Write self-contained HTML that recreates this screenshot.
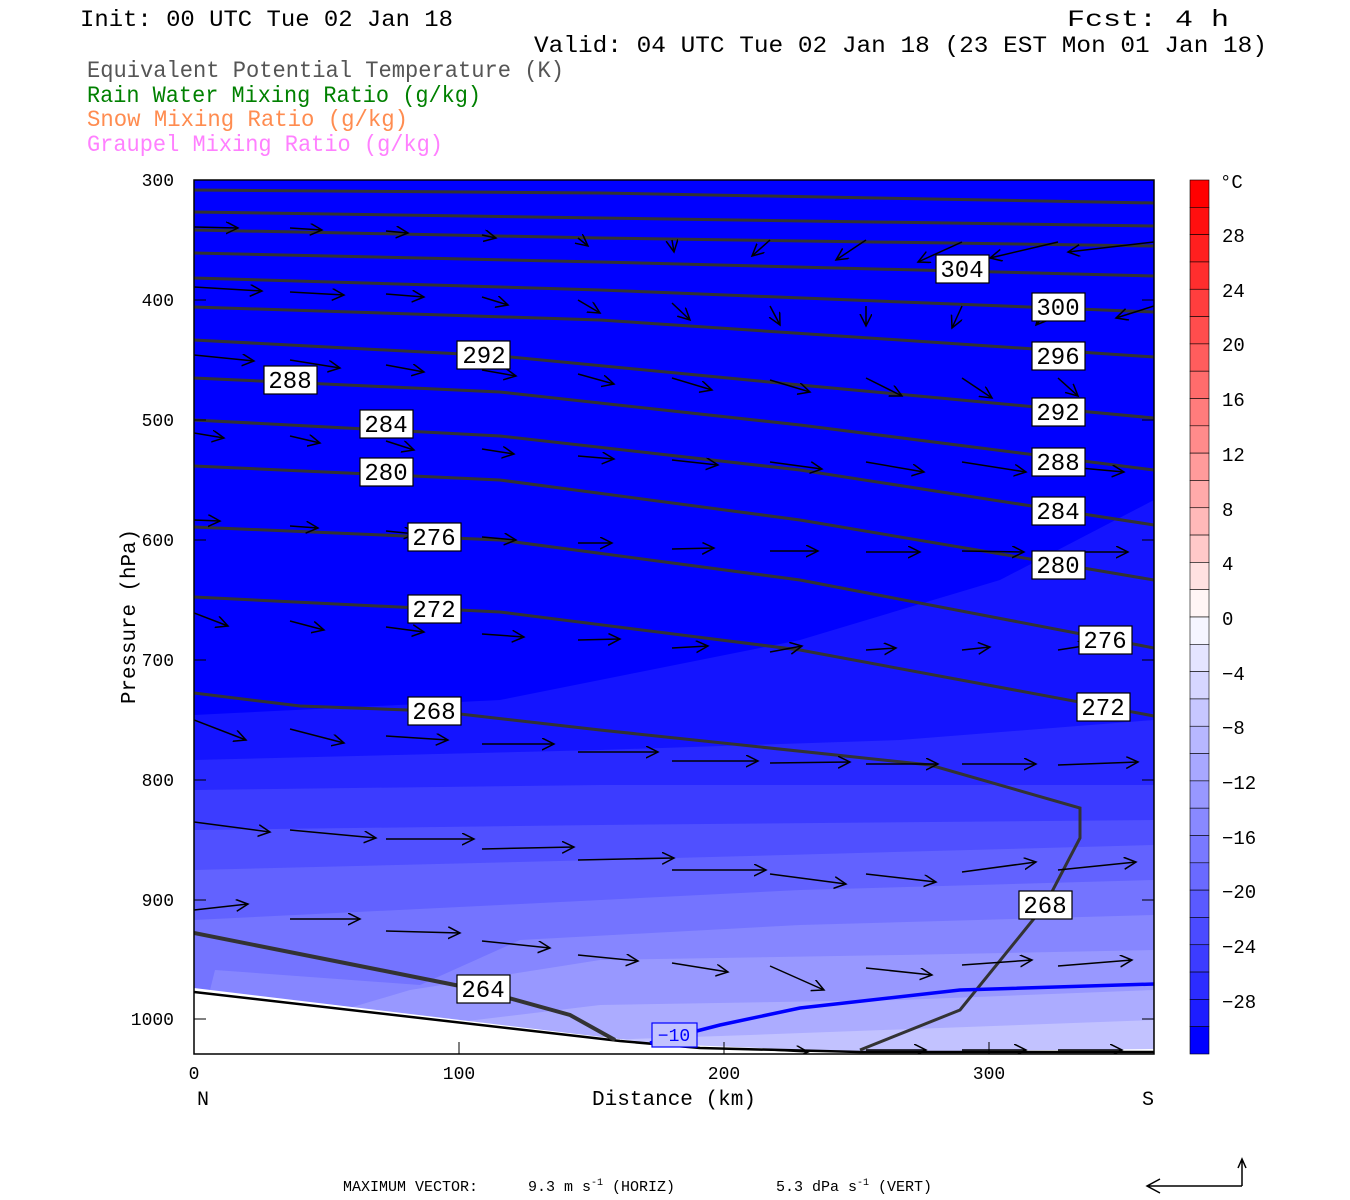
<!DOCTYPE html>
<html><head><meta charset="utf-8"><style>
html,body{margin:0;padding:0;background:#fff;width:1350px;height:1200px;overflow:hidden}
svg text{font-family:"Liberation Mono",monospace}
</style></head><body>
<svg width="1350" height="1200" viewBox="0 0 1350 1200" xmlns="http://www.w3.org/2000/svg">
<defs>
<marker id="ah" markerWidth="14" markerHeight="14" refX="12" refY="6" orient="auto" markerUnits="userSpaceOnUse">
<path d="M0,0 L12,6 L0,12" fill="none" stroke="#000" stroke-width="1.5"/>
</marker>
<clipPath id="pc"><rect x="194" y="180" width="960" height="874"/></clipPath>
</defs>
<g font-size="23">
<text x="80" y="26" fill="#000" textLength="373" lengthAdjust="spacingAndGlyphs">Init: 00 UTC Tue 02 Jan 18</text>
<text x="1067" y="26" fill="#000" textLength="162" lengthAdjust="spacingAndGlyphs">Fcst:    4 h</text>
<text x="534" y="52" fill="#000" textLength="733" lengthAdjust="spacingAndGlyphs">Valid: 04 UTC Tue 02 Jan 18 (23 EST Mon 01 Jan 18)</text>
<text x="87" y="77" fill="#555" textLength="477" lengthAdjust="spacingAndGlyphs">Equivalent Potential Temperature (K)</text>
<text x="87" y="102" fill="#008000" textLength="394" lengthAdjust="spacingAndGlyphs">Rain Water Mixing Ratio (g/kg)</text>
<text x="87" y="126" fill="#ff8c50" textLength="321" lengthAdjust="spacingAndGlyphs">Snow Mixing Ratio (g/kg)</text>
<text x="87" y="151" fill="#ff80ff" textLength="356" lengthAdjust="spacingAndGlyphs">Graupel Mixing Ratio (g/kg)</text>
</g>
<g clip-path="url(#pc)">
<rect x="194" y="180" width="960" height="874" fill="#0000ff"/>
<path d="M194,715 L500,700 L800,640 L1000,580 L1154,500 L1154,1054 L194,1054Z" fill="#1414ff"/>
<path d="M194,760 L600,750 L900,740 L1154,720 L1154,1054 L194,1054Z" fill="#2828ff"/>
<path d="M194,790 L600,785 L1154,785 L1154,1054 L194,1054Z" fill="#3c3cff"/>
<path d="M194,830 L600,825 L1154,820 L1154,1054 L194,1054Z" fill="#5050ff"/>
<path d="M194,870 L600,860 L1154,845 L1154,1054 L194,1054Z" fill="#6262ff"/>
<path d="M194,920 L500,905 L800,890 L1154,880 L1154,1054 L194,1054Z" fill="#7474ff"/>
<path d="M215,970 L420,985 L520,940 L800,925 L1154,915 L1154,1054 L194,1054Z" fill="#8686ff"/>
<path d="M410,990 L600,960 L900,955 L1154,950 L1154,1054 L194,1054Z" fill="#9898ff"/>
<path d="M600,1005 L900,1000 L1154,990 L1154,1054 L194,1054Z" fill="#acacff"/>
<path d="M750,1035 L1154,1020 L1154,1054 L194,1054Z" fill="#c2c2ff"/>
<path d="M194,988 L660,1044 L860,1052 L1154,1049 L1154,1054 L194,1054Z" fill="#fff"/>
<path d="M194,992 L620,1041 L700,1048 L860,1052 L1154,1052" fill="none" stroke="#000" stroke-width="2.5"/>
<g fill="none" stroke="#333" stroke-width="3">
<path d="M194,190 L600,193 L1154,203"/>
<path d="M194,212 L600,218 L1154,226"/>
<path d="M194,230 L600,238 L1154,246"/>
<path d="M194,253 L600,262 L1154,276"/>
<path d="M194,278 L600,290 L1154,312"/>
<path d="M194,307 L600,320 L1154,357"/>
<path d="M194,340 L500,356 L800,385 L1154,418"/>
<path d="M194,378 L500,392 L800,425 L1154,470"/>
<path d="M194,420 L500,436 L800,470 L1154,525"/>
<path d="M194,466 L500,480 L800,520 L1154,580"/>
<path d="M194,527 L500,540 L800,580 L1154,648"/>
<path d="M194,597 L500,612 L800,650 L1154,716"/>
<path d="M194,693 L300,706 L434,711 L600,730 L930,765 L1080,808 L1080,838 L1045,905 L960,1010 L860,1050"/>
<path d="M194,933 L380,970 L480,990 L570,1015 L615,1040" stroke-width="4"/>
</g>
<path d="M650,1043 L720,1025 L800,1008 L960,990 L1154,984" fill="none" stroke="#0000ff" stroke-width="3.5"/>
<g stroke="#000" stroke-width="1.5" marker-end="url(#ah)" fill="none">
<line x1="194" y1="227" x2="238" y2="228"/><line x1="290" y1="228" x2="322" y2="230"/><line x1="386" y1="231" x2="408" y2="233"/><line x1="482" y1="235" x2="496" y2="238"/><line x1="578" y1="238" x2="588" y2="246"/><line x1="672" y1="240" x2="674" y2="252"/><line x1="770" y1="240" x2="752" y2="256"/><line x1="866" y1="240" x2="836" y2="260"/><line x1="962" y1="242" x2="918" y2="262"/><line x1="1058" y1="242" x2="990" y2="258"/><line x1="1154" y1="242" x2="1068" y2="252"/>
<line x1="194" y1="287" x2="262" y2="291"/><line x1="290" y1="292" x2="344" y2="295"/><line x1="386" y1="294" x2="424" y2="297"/><line x1="482" y1="297" x2="508" y2="305"/><line x1="578" y1="300" x2="600" y2="313"/><line x1="672" y1="303" x2="690" y2="320"/><line x1="770" y1="306" x2="780" y2="325"/><line x1="866" y1="306" x2="866" y2="326"/><line x1="962" y1="306" x2="952" y2="328"/><line x1="1058" y1="300" x2="1036" y2="325"/><line x1="1154" y1="306" x2="1116" y2="318"/>
<line x1="194" y1="355" x2="254" y2="361"/><line x1="290" y1="360" x2="340" y2="368"/><line x1="386" y1="365" x2="424" y2="372"/><line x1="482" y1="370" x2="516" y2="376"/><line x1="578" y1="374" x2="614" y2="384"/><line x1="672" y1="378" x2="712" y2="390"/><line x1="770" y1="380" x2="810" y2="392"/><line x1="866" y1="378" x2="902" y2="396"/><line x1="962" y1="378" x2="992" y2="398"/><line x1="1058" y1="378" x2="1078" y2="396"/>
<line x1="194" y1="433" x2="224" y2="438"/><line x1="290" y1="436" x2="320" y2="443"/><line x1="386" y1="441" x2="414" y2="450"/><line x1="482" y1="449" x2="514" y2="454"/><line x1="578" y1="456" x2="614" y2="459"/><line x1="672" y1="460" x2="718" y2="465"/><line x1="770" y1="462" x2="822" y2="469"/><line x1="866" y1="462" x2="924" y2="472"/><line x1="962" y1="462" x2="1026" y2="472"/><line x1="1058" y1="466" x2="1124" y2="472"/>
<line x1="194" y1="520" x2="220" y2="521"/><line x1="290" y1="526" x2="318" y2="528"/><line x1="386" y1="531" x2="416" y2="534"/><line x1="482" y1="537" x2="516" y2="540"/><line x1="578" y1="543" x2="612" y2="543"/><line x1="672" y1="549" x2="714" y2="548"/><line x1="770" y1="551" x2="818" y2="551"/><line x1="866" y1="552" x2="920" y2="552"/><line x1="962" y1="551" x2="1024" y2="552"/><line x1="1058" y1="552" x2="1128" y2="552"/>
<line x1="194" y1="613" x2="228" y2="626"/><line x1="290" y1="621" x2="324" y2="630"/><line x1="386" y1="627" x2="424" y2="632"/><line x1="482" y1="634" x2="524" y2="637"/><line x1="578" y1="640" x2="620" y2="639"/><line x1="672" y1="648" x2="708" y2="646"/><line x1="770" y1="652" x2="802" y2="646"/><line x1="866" y1="650" x2="896" y2="648"/><line x1="962" y1="650" x2="990" y2="647"/><line x1="1058" y1="650" x2="1090" y2="645"/>
<line x1="194" y1="720" x2="246" y2="740"/><line x1="290" y1="729" x2="344" y2="743"/><line x1="386" y1="736" x2="448" y2="740"/><line x1="482" y1="744" x2="554" y2="744"/><line x1="578" y1="752" x2="658" y2="752"/><line x1="672" y1="761" x2="758" y2="761"/><line x1="770" y1="763" x2="850" y2="762"/><line x1="866" y1="764" x2="938" y2="764"/><line x1="962" y1="764" x2="1036" y2="764"/><line x1="1058" y1="765" x2="1138" y2="762"/>
<line x1="194" y1="822" x2="270" y2="832"/><line x1="290" y1="830" x2="376" y2="838"/><line x1="386" y1="839" x2="474" y2="839"/><line x1="482" y1="849" x2="574" y2="847"/><line x1="578" y1="860" x2="674" y2="858"/><line x1="672" y1="870" x2="766" y2="870"/><line x1="770" y1="874" x2="846" y2="884"/><line x1="866" y1="874" x2="936" y2="882"/><line x1="962" y1="872" x2="1036" y2="862"/><line x1="1058" y1="870" x2="1136" y2="862"/>
<line x1="194" y1="910" x2="248" y2="904"/><line x1="290" y1="919" x2="360" y2="919"/><line x1="386" y1="931" x2="460" y2="933"/><line x1="482" y1="941" x2="550" y2="948"/><line x1="578" y1="955" x2="638" y2="961"/><line x1="672" y1="963" x2="728" y2="972"/><line x1="770" y1="966" x2="824" y2="990"/><line x1="866" y1="968" x2="932" y2="975"/><line x1="962" y1="965" x2="1032" y2="960"/><line x1="1058" y1="966" x2="1132" y2="960"/>
<line x1="770" y1="1050" x2="808" y2="1052"/><line x1="866" y1="1050" x2="926" y2="1050"/><line x1="962" y1="1050" x2="1026" y2="1050"/><line x1="1058" y1="1050" x2="1122" y2="1050"/>
</g>
</g>
<g font-size="24" text-anchor="middle" font-family="Liberation Serif">
<g fill="#fff" stroke="#000" stroke-width="1.2">
<rect x="936" y="255" width="53" height="28"/><rect x="1032" y="293" width="53" height="28"/><rect x="1032" y="342" width="53" height="28"/><rect x="457" y="341" width="53" height="28"/><rect x="1032" y="398" width="53" height="28"/><rect x="264" y="366" width="53" height="28"/><rect x="1032" y="448" width="53" height="28"/><rect x="360" y="410" width="53" height="28"/><rect x="1032" y="497" width="53" height="28"/><rect x="360" y="458" width="53" height="28"/><rect x="1032" y="551" width="53" height="28"/><rect x="408" y="523" width="53" height="28"/><rect x="1079" y="626" width="53" height="28"/><rect x="408" y="595" width="53" height="28"/><rect x="1077" y="693" width="53" height="28"/><rect x="408" y="697" width="53" height="28"/><rect x="1019" y="891" width="53" height="28"/><rect x="457" y="975" width="53" height="28"/>
</g>
<text x="962" y="277">304</text><text x="1058" y="315">300</text><text x="1058" y="364">296</text><text x="484" y="363">292</text><text x="1058" y="420">292</text><text x="290" y="388">288</text><text x="1058" y="470">288</text><text x="386" y="432">284</text><text x="1058" y="519">284</text><text x="386" y="480">280</text><text x="1058" y="573">280</text><text x="434" y="545">276</text><text x="1105" y="648">276</text><text x="434" y="617">272</text><text x="1103" y="715">272</text><text x="434" y="719">268</text><text x="1045" y="913">268</text><text x="483" y="997">264</text>
</g>
<rect x="652" y="1023" width="45" height="24" fill="#c2c2ff" stroke="#0000ff" stroke-width="1.2"/>
<text x="674" y="1041" font-size="18" fill="#0000ff" text-anchor="middle">−10</text>
<rect x="194" y="180" width="960" height="874" fill="none" stroke="#000" stroke-width="1.5"/>
<g stroke="#000" stroke-width="1">
<path d="M194,180h12M194,300h12M194,420h12M194,540h12M194,660h12M194,780h12M194,900h12M194,1019h12M1154,180h-12M1154,300h-12M1154,420h-12M1154,540h-12M1154,660h-12M1154,780h-12M1154,900h-12M1154,1019h-12"/>
<path d="M459,1054v-12M724,1054v-12M989,1054v-12"/>
</g>
<g font-size="18" text-anchor="end">
<text x="174" y="186">300</text><text x="174" y="306">400</text><text x="174" y="426">500</text><text x="174" y="546">600</text><text x="174" y="666">700</text><text x="174" y="786">800</text><text x="174" y="906">900</text><text x="174" y="1025">1000</text>
</g>
<g font-size="18" text-anchor="middle">
<text x="194" y="1079">0</text><text x="459" y="1079">100</text><text x="724" y="1079">200</text><text x="989" y="1079">300</text>
</g>
<text x="203" y="1105" font-size="20" text-anchor="middle">N</text>
<text x="1148" y="1105" font-size="20" text-anchor="middle">S</text>
<text x="592" y="1105" font-size="21" textLength="164" lengthAdjust="spacingAndGlyphs">Distance (km)</text>
<text transform="translate(135,704) rotate(-90)" font-size="21" textLength="175" lengthAdjust="spacingAndGlyphs">Pressure (hPa)</text>
<g stroke="#000" stroke-width="0.6">
<rect x="1190" y="180.00" width="19" height="27.31" fill="rgb(255,0,0)"/>
<rect x="1190" y="207.31" width="19" height="27.31" fill="rgb(255,15,15)"/>
<rect x="1190" y="234.63" width="19" height="27.31" fill="rgb(255,31,31)"/>
<rect x="1190" y="261.94" width="19" height="27.31" fill="rgb(255,46,46)"/>
<rect x="1190" y="289.25" width="19" height="27.31" fill="rgb(255,62,62)"/>
<rect x="1190" y="316.56" width="19" height="27.31" fill="rgb(255,77,77)"/>
<rect x="1190" y="343.88" width="19" height="27.31" fill="rgb(255,93,93)"/>
<rect x="1190" y="371.19" width="19" height="27.31" fill="rgb(255,108,108)"/>
<rect x="1190" y="398.50" width="19" height="27.31" fill="rgb(255,124,124)"/>
<rect x="1190" y="425.81" width="19" height="27.31" fill="rgb(255,139,139)"/>
<rect x="1190" y="453.13" width="19" height="27.31" fill="rgb(255,155,155)"/>
<rect x="1190" y="480.44" width="19" height="27.31" fill="rgb(255,170,170)"/>
<rect x="1190" y="507.75" width="19" height="27.31" fill="rgb(255,185,185)"/>
<rect x="1190" y="535.06" width="19" height="27.31" fill="rgb(255,201,201)"/>
<rect x="1190" y="562.38" width="19" height="27.31" fill="rgb(255,225,225)"/>
<rect x="1190" y="589.69" width="19" height="27.31" fill="rgb(255,245,245)"/>
<rect x="1190" y="617.00" width="19" height="27.31" fill="rgb(245,245,255)"/>
<rect x="1190" y="644.31" width="19" height="27.31" fill="rgb(228,228,255)"/>
<rect x="1190" y="671.63" width="19" height="27.31" fill="rgb(214,214,255)"/>
<rect x="1190" y="698.94" width="19" height="27.31" fill="rgb(199,199,255)"/>
<rect x="1190" y="726.25" width="19" height="27.31" fill="rgb(183,183,255)"/>
<rect x="1190" y="753.56" width="19" height="27.31" fill="rgb(168,168,255)"/>
<rect x="1190" y="780.88" width="19" height="27.31" fill="rgb(152,152,255)"/>
<rect x="1190" y="808.19" width="19" height="27.31" fill="rgb(137,137,255)"/>
<rect x="1190" y="835.50" width="19" height="27.31" fill="rgb(121,121,255)"/>
<rect x="1190" y="862.81" width="19" height="27.31" fill="rgb(106,106,255)"/>
<rect x="1190" y="890.13" width="19" height="27.31" fill="rgb(90,90,255)"/>
<rect x="1190" y="917.44" width="19" height="27.31" fill="rgb(75,75,255)"/>
<rect x="1190" y="944.75" width="19" height="27.31" fill="rgb(60,60,255)"/>
<rect x="1190" y="972.06" width="19" height="27.31" fill="rgb(44,44,255)"/>
<rect x="1190" y="999.38" width="19" height="27.31" fill="rgb(29,29,255)"/>
<rect x="1190" y="1026.69" width="19" height="27.31" fill="rgb(0,0,255)"/>
</g>
<g font-size="19">
<text x="1220" y="188">°C</text><text x="1222" y="242">28</text><text x="1222" y="297">24</text><text x="1222" y="351">20</text><text x="1222" y="406">16</text><text x="1222" y="461">12</text><text x="1222" y="516">8</text><text x="1222" y="570">4</text><text x="1222" y="625">0</text><text x="1222" y="680">−4</text><text x="1222" y="734">−8</text><text x="1222" y="789">−12</text><text x="1222" y="844">−16</text><text x="1222" y="898">−20</text><text x="1222" y="953">−24</text><text x="1222" y="1008">−28</text>
</g>
<g font-size="15" font-family="Liberation Serif">
<text x="343" y="1191">MAXIMUM VECTOR:</text>
<text x="528" y="1191">9.3 m s<tspan dy="-6" font-size="10">-1</tspan><tspan dy="6"> (HORIZ)</tspan></text>
<text x="776" y="1191">5.3 dPa s<tspan dy="-6" font-size="10">-1</tspan><tspan dy="6"> (VERT)</tspan></text>
</g>
<path d="M1242,1186 H1148 M1160,1179 L1147,1186 L1160,1193 M1242,1186 V1160 M1238,1168 L1242,1159 L1246,1168" fill="none" stroke="#000" stroke-width="1.5"/>
</svg>
</body></html>
